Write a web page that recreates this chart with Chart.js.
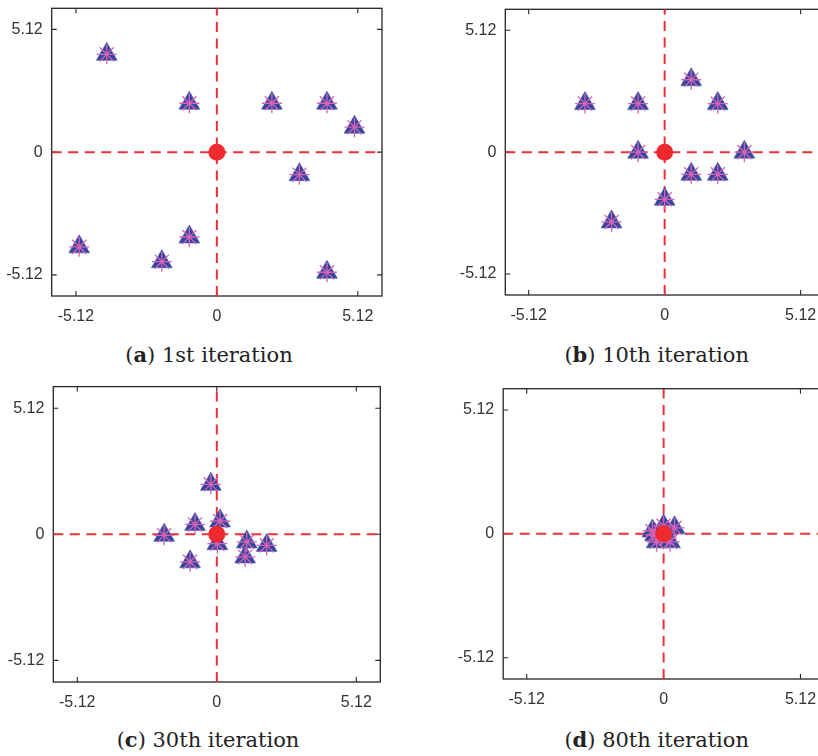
<!DOCTYPE html>
<html>
<head>
<meta charset="utf-8">
<script src="https://cdn.jsdelivr.net/npm/chart.js@4/dist/chart.umd.min.js"></script>
<style>
html,body{margin:0;padding:0;background:#fff;overflow:hidden;width:818px;height:756px;}
#wrap{position:relative;width:818px;height:756px;overflow:hidden;}
canvas{position:absolute;}
.cap{position:absolute;width:320px;text-align:center;font-family:"DejaVu Serif",serif;font-size:21px;line-height:21px;color:#222;white-space:nowrap;}
</style>
</head>
<body>
<div id="wrap">
<canvas id="ca"></canvas>
<canvas id="cb"></canvas>
<canvas id="cc"></canvas>
<canvas id="cd"></canvas>
<div class="cap" id="capa"></div>
<div class="cap" id="capb"></div>
<div class="cap" id="capc"></div>
<div class="cap" id="capd"></div>
</div>
<script>
// ---- data ----
const tickValues = [-5.12, 0, 5.12];
const tickLabels = ['-5.12', '0', '5.12'];
const axisMin = -6, axisMax = 6;
const bestX = [0];
const bestY = [0];
const iter1X = [-4, -1, 2, 4, 5, 3, -5, -2, -1, 4];
const iter1Y = [4.08, 2.04, 2.04, 2.04, 1.04, -0.94, -3.95, -4.57, -3.54, -5.01];
const iter10X = [-3, -1, 1, 2, -1, 3, 1, 2, 0, -2];
const iter10Y = [2.04, 2.04, 3.04, 2.04, 0, 0, -0.93, -0.93, -1.98, -2.93];
const iter30X = [-0.22, -0.8, 0.12, -1.93, 0.02, 1.1, 1.83, 1.04, -0.98];
const iter30Y = [2.03, 0.4, 0.54, -0.04, -0.38, -0.31, -0.45, -0.92, -1.12];
const iter80X = [-0.42, 0, 0.41, -0.32, -0.26, 0.24, 0.12, -0.1];
const iter80Y = [0.12, 0.33, 0.25, -0.04, -0.33, -0.33, -0.18, -0.1];
const captionLetters = ['a', 'b', 'c', 'd'];
const captionTexts = ['1st iteration', '10th iteration', '30th iteration', '80th iteration'];

// ---- helpers ----
function pts(xs, ys){ return xs.map((v,i)=>({x:v, y:ys[i]})); }

const framePlugin = {
  id: 'frame',
  beforeDatasetsDraw(chart){
    const {ctx, chartArea:a, scales:{x, y}} = chart;
    ctx.save();
    ctx.strokeStyle = '#262626';
    ctx.lineWidth = 1.3;
    ctx.strokeRect(a.left, a.top, a.right - a.left, a.bottom - a.top);
    ctx.beginPath();
    const L = 5;
    tickValues.forEach(v => {
      const px = x.getPixelForValue(v);
      ctx.moveTo(px, a.bottom); ctx.lineTo(px, a.bottom - L);
      ctx.moveTo(px, a.top); ctx.lineTo(px, a.top + L);
      const py = y.getPixelForValue(v);
      ctx.moveTo(a.left, py); ctx.lineTo(a.left + L, py);
      ctx.moveTo(a.right, py); ctx.lineTo(a.right - L, py);
    });
    ctx.lineWidth = 1.1;
    ctx.stroke();
    ctx.restore();
  }
};

function makeChart(id, cfg, xs, ys){
  const cv = document.getElementById(id);
  cv.width = cfg.W; cv.height = cfg.H;
  cv.style.left = cfg.left + 'px'; cv.style.top = cfg.top + 'px';
  cv.style.width = cfg.W + 'px'; cv.style.height = cfg.H + 'px';
  const tickFont = {family: '"Liberation Sans", Arial, sans-serif', size: 16};
  const axisCommon = {
    type: 'linear', min: axisMin, max: axisMax,
    afterBuildTicks: s => { s.ticks = tickValues.map(v => ({value: v})); },
    grid: {display: false, drawTicks: false},
    border: {display: false},
  };
  new Chart(cv, {
    type: 'scatter',
    data: {
      datasets: [
        {type:'line', data: [{x:0, y:axisMin}, {x:0, y:axisMax}], borderColor:'#ea3038', borderWidth:2, borderDash:[10,6.5], pointRadius:0, fill:false, order:5},
        {type:'line', data: [{x:axisMin, y:0}, {x:axisMax, y:0}], borderColor:'#ea3038', borderWidth:2, borderDash:[10,6.5], pointRadius:0, fill:false, order:4},
        {data: pts(xs, ys), pointStyle:'triangle', pointRadius:12, pointBackgroundColor:'#34479d', pointBorderColor:'#4259aa', pointBorderWidth:0.6, order:3},
        {data: pts(xs, ys), pointStyle:'star', pointRadius:10, pointBorderColor:'#d862b6', pointBorderWidth:1.3, pointBackgroundColor:'#d862b6', order:2},
        {data: pts(bestX, bestY), pointStyle:'circle', pointRadius:8.5, pointBackgroundColor:'#ee2a2f', pointBorderWidth:0, order:1}
      ]
    },
    options: {
      responsive: false, animation: false, devicePixelRatio: 1,
      layout: {autoPadding: false, padding: {left: 0, right: cfg.padR, top: cfg.padT, bottom: 0}},
      plugins: {legend: {display: false}, tooltip: {enabled: false}},
      scales: {
        x: Object.assign({}, axisCommon, {
          position: 'bottom',
          afterFit: s => { s.height = 34; s.paddingLeft = 0; s.paddingRight = 0; s.paddingTop = 0; s.paddingBottom = 0; },
          ticks: {padding: 11, font: tickFont, color: '#333', maxRotation: 0, autoSkip: false,
                  callback: v => tickLabels[tickValues.indexOf(v)]}
        }),
        y: Object.assign({}, axisCommon, {
          position: 'left',
          afterFit: s => { s.width = cfg.yW; s.paddingTop = 0; s.paddingBottom = 0; s.paddingLeft = 0; s.paddingRight = 0; },
          ticks: {padding: 9, font: tickFont, color: '#333', autoSkip: false,
                  callback: v => tickLabels[tickValues.indexOf(v)]}
        })
      }
    },
    plugins: [framePlugin]
  });
}

makeChart('ca', {left:0, top:0, W:400, H:330, padT:8.3, padR:18, yW:51.7}, iter1X, iter1Y);
makeChart('cb', {left:453, top:0, W:371, H:329, padT:9.3, padR:0, yW:52.3}, iter10X, iter10Y);
makeChart('cc', {left:0, top:378, W:400, H:338, padT:8.6, padR:19.7, yW:53.3}, iter30X, iter30Y);
makeChart('cd', {left:450, top:380, W:374, H:333, padT:8.7, padR:0, yW:53.2}, iter80X, iter80Y);

const capPos = [[209, 344], [656.7, 344], [208, 729], [656.7, 729]];
captionLetters.forEach((l, i) => {
  const el = document.getElementById('cap' + l);
  el.innerHTML = '(<b>' + l + '</b>) ' + captionTexts[i];
  el.style.left = (capPos[i][0] - 160) + 'px';
  el.style.top = capPos[i][1] + 'px';
});
</script>
</body>
</html>
